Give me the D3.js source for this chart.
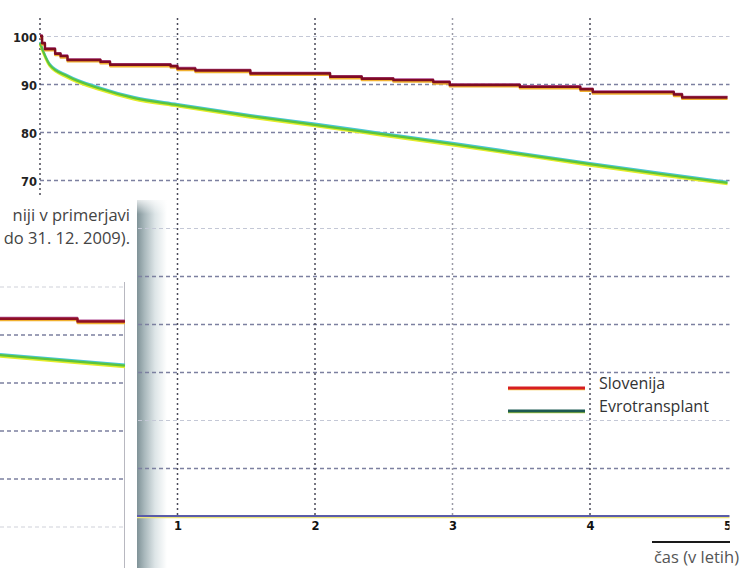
<!DOCTYPE html>
<html>
<head>
<meta charset="utf-8">
<script src="https://cdn.jsdelivr.net/npm/d3@7"></script>
<style>
  html, body { margin: 0; padding: 0; background: #ffffff; }
  svg { display: block; }
</style>
</head>
<body>
<svg id="chart" width="744" height="568"></svg>
<script>
// Preživetje (%) po letih: Slovenija in Evrotransplant
const seriesNames = ["Slovenija", "Evrotransplant"];

// Slovenija – stopničasta krivulja (leto, %)
const sloYears  = [0, 0.015, 0.036, 0.11, 0.15, 0.2, 0.44, 0.51, 0.95, 1.0, 1.13, 1.53, 2.11, 2.34, 2.57, 2.86, 2.98, 3.49, 3.93, 4.02, 4.61, 4.67, 5.0];
const sloValues = [100, 98.5, 97.3, 96.3, 95.8, 95.0, 94.6, 94.0, 93.7, 93.2, 92.8, 92.2, 91.5, 91.1, 90.8, 90.4, 89.8, 89.4, 88.9, 88.3, 87.8, 87.2, 87.2];

// Evrotransplant – gladka krivulja (leto, %)
const etYears  = [0, 0.07, 0.2, 0.44, 0.68, 1.0, 1.53, 2.0, 2.5, 3.0, 3.5, 4.0, 4.5, 5.0];
const etValues = [98.5, 94.0, 91.6, 89.0, 87.1, 85.6, 83.3, 81.5, 79.5, 77.5, 75.4, 73.3, 71.3, 69.4];

const xTicks = [1, 2, 3, 4, 5];
const yTicks = [0, 10, 20, 30, 40, 50, 60, 70, 80, 90, 100];
const yLabels = [70, 80, 90, 100];

// Izsek sosednjega grafa (spodaj levo)
const insetYears = [4.0, 4.0, 4.62, 5.0];
const insetSlo   = [93.4, 93.4, 92.8, 92.8];
const insetEtYears = [4.0, 5.0];
const insetEt      = [85.8, 83.6];
const captionLines = ["niji v primerjavi", "do 31. 12. 2009)."];

const svg = d3.select("#chart");
const defs = svg.append("defs");

defs.append("clipPath").attr("id", "plotClip")
  .append("rect").attr("x", 0).attr("y", 0).attr("width", 729.5).attr("height", 568);

const shade = defs.append("linearGradient").attr("id", "shade")
  .attr("x1", "0").attr("x2", "1").attr("y1", "0").attr("y2", "0");
shade.append("stop").attr("offset", "0%").attr("stop-color", "#7f9297");
shade.append("stop").attr("offset", "25%").attr("stop-color", "#a9b8bc");
shade.append("stop").attr("offset", "60%").attr("stop-color", "#dde5e7");
shade.append("stop").attr("offset", "100%").attr("stop-color", "#ffffff");

const shadeTop = defs.append("linearGradient").attr("id", "shadeTop")
  .attr("x1", "0").attr("x2", "0").attr("y1", "0").attr("y2", "1");
shadeTop.append("stop").attr("offset", "0%").attr("stop-color", "#ffffff").attr("stop-opacity", 1);
shadeTop.append("stop").attr("offset", "100%").attr("stop-color", "#ffffff").attr("stop-opacity", 0);

// Senca ob robu izseka
svg.append("rect").attr("x", 137).attr("y", 200).attr("width", 30).attr("height", 368).attr("fill", "url(#shade)");
svg.append("rect").attr("x", 137).attr("y", 196).attr("width", 32).attr("height", 18).attr("fill", "url(#shadeTop)");

const x = d3.scaleLinear().domain([0, 5]).range([40, 727.5]);
const y = d3.scaleLinear().domain([0, 100]).range([516, 36]);

const plot = svg.append("g").attr("clip-path", "url(#plotClip)");

// Vodoravne mrežne črte
const faintRows = new Set([100, 60, 20]);
plot.append("g").selectAll("line")
  .data(yTicks.filter(v => v > 0))
  .join("line")
  .attr("x1", x(0)).attr("x2", 731)
  .attr("y1", d => y(d) + 0.5).attr("y2", d => y(d) + 0.5)
  .attr("stroke", d => faintRows.has(d) ? "#c4c8d6" : "#7c80a0")
  .attr("stroke-width", d => faintRows.has(d) ? 1.2 : 1.6)
  .attr("stroke-dasharray", "4,3");

// Navpične mrežne črte
plot.append("g").selectAll("line")
  .data(xTicks.filter(v => v < 5))
  .join("line")
  .attr("x1", d => x(d)).attr("x2", d => x(d))
  .attr("y1", 18).attr("y2", y(0))
  .attr("stroke", d => d === 3 ? "#9a9aa6" : "#4a4a58")
  .attr("stroke-width", 1.5)
  .attr("stroke-dasharray", "2,3");

// Navpična os
plot.append("line")
  .attr("x1", x(0)).attr("x2", x(0)).attr("y1", 18).attr("y2", y(0))
  .attr("stroke", "#4a4a55").attr("stroke-width", 1.5).attr("stroke-dasharray", "2,3");

// Oznake na navpični osi
const yAxis = d3.axisLeft(y).tickValues(yLabels).tickSize(0).tickPadding(2).tickFormat(d3.format("d"));
const yg = plot.append("g").attr("transform", `translate(${x(0) - 1},2)`).call(yAxis);
yg.select(".domain").remove();
yg.selectAll("text")
  .attr("font-family", "DejaVu Sans, sans-serif").attr("font-size", 11.5)
  .attr("font-weight", "bold").attr("fill", "#222");

// Vodoravna os
plot.append("line")
  .attr("x1", 100).attr("x2", 731).attr("y1", y(0) + 1.5).attr("y2", y(0) + 1.5)
  .attr("stroke", "#ece47a").attr("stroke-width", 1.5);
plot.append("line")
  .attr("x1", 100).attr("x2", 731).attr("y1", y(0)).attr("y2", y(0))
  .attr("stroke", "#5a5ca8").attr("stroke-width", 2);

const xAxis = d3.axisBottom(x).tickValues(xTicks).tickSize(0).tickPadding(6).tickFormat(d3.format("d"));
const xg = plot.append("g").attr("transform", `translate(0,${y(0)})`).call(xAxis);
xg.select(".domain").remove();
xg.selectAll("text")
  .attr("font-family", "DejaVu Sans, sans-serif").attr("font-size", 11.5)
  .attr("font-weight", "bold").attr("fill", "#111");

// Krivulje
const sloData = sloYears.map((t, i) => [t, sloValues[i]]);
const etData = etYears.map((t, i) => [t, etValues[i]]);

const stepLine = d3.line().x(d => x(d[0])).y(d => y(d[1])).curve(d3.curveStepAfter);
const smoothLine = d3.line().x(d => x(d[0])).y(d => y(d[1])).curve(d3.curveMonotoneX);

function layered(g, gen, data, layers) {
  layers.forEach(l => {
    g.append("path").datum(data)
      .attr("d", gen)
      .attr("transform", `translate(0,${l.dy})`)
      .attr("fill", "none")
      .attr("stroke", l.color)
      .attr("stroke-width", l.w)
      .attr("stroke-linejoin", "round");
  });
}

layered(plot.append("g"), smoothLine, etData, [
  { dy: 1.4, color: "#e4ec2a", w: 2.2 },
  { dy: -1.2, color: "#49c6d4", w: 2.0 },
  { dy: 0, color: "#5cc43c", w: 2.2 }
]);
layered(plot.append("g"), stepLine, sloData, [
  { dy: 1.5, color: "#f0b030", w: 2.2 },
  { dy: -1.0, color: "#b04890", w: 1.6 },
  { dy: 0, color: "#7e0c22", w: 2.4 }
]);

// Legenda
const legendColors = [
  { main: "#d61e22", under: "#f2c23a" },
  { main: "#1d5a52", under: "#b8d838" }
];
const lg = svg.append("g");
seriesNames.forEach((name, i) => {
  const yy = 388 + i * 23;
  lg.append("line").attr("x1", 508).attr("x2", 585).attr("y1", yy + 1.5).attr("y2", yy + 1.5)
    .attr("stroke", legendColors[i].under).attr("stroke-width", 1.5);
  lg.append("line").attr("x1", 508).attr("x2", 585).attr("y1", yy).attr("y2", yy)
    .attr("stroke", legendColors[i].main).attr("stroke-width", 3);
  lg.append("text").attr("x", 599).attr("y", yy + 1)
    .attr("font-family", "Open Sans, sans-serif").attr("font-size", 16)
    .attr("fill", "#333").text(name);
});

// Naslov vodoravne osi
svg.append("line").attr("x1", 652).attr("x2", 730).attr("y1", 542).attr("y2", 542)
  .attr("stroke", "#1a1a1a").attr("stroke-width", 2);
svg.append("text").attr("x", 739).attr("y", 563).attr("text-anchor", "end")
  .attr("font-family", "Open Sans, sans-serif").attr("font-size", 16.5)
  .attr("fill", "#555").text("čas (v letih)");

// Izsek sosednjega grafa
const inset = svg.append("g");
inset.append("rect").attr("x", 0).attr("y", 195).attr("width", 137).attr("height", 373).attr("fill", "#ffffff");

captionLines.forEach((t, i) => {
  inset.append("text").attr("x", 130).attr("y", 221 + i * 23).attr("text-anchor", "end")
    .attr("font-family", "Open Sans, sans-serif").attr("font-size", 16.5)
    .attr("fill", "#444").text(t);
});

const ix = d3.scaleLinear().domain([4.0, 5.0]).range([0, 125]);
const iy = d3.scaleLinear().domain([0, 100]).range([767, 287]);

inset.append("g").selectAll("line")
  .data([100, 90, 80, 70, 60, 50])
  .join("line")
  .attr("x1", 0).attr("x2", 125)
  .attr("y1", d => iy(d)).attr("y2", d => iy(d))
  .attr("stroke", d => (d === 100 || d === 50) ? "#cfd2da" : "#7c80a0")
  .attr("stroke-width", d => (d === 100 || d === 50) ? 1.2 : 1.6)
  .attr("stroke-dasharray", "4,3");

inset.append("line").attr("x1", 124.5).attr("x2", 124.5).attr("y1", 282).attr("y2", 568)
  .attr("stroke", "#b8b8c0").attr("stroke-width", 1);

const iSloData = insetYears.map((t, i) => [t, insetSlo[i]]);
const iEtData = insetEtYears.map((t, i) => [t, insetEt[i]]);
const iStep = d3.line().x(d => ix(d[0])).y(d => iy(d[1])).curve(d3.curveStepAfter);
const iLin = d3.line().x(d => ix(d[0])).y(d => iy(d[1]));

layered(inset.append("g"), iLin, iEtData, [
  { dy: 1.4, color: "#e4ec2a", w: 2.2 },
  { dy: -1.2, color: "#49c6d4", w: 2.0 },
  { dy: 0, color: "#5cc43c", w: 2.2 }
]);
layered(inset.append("g"), iStep, iSloData, [
  { dy: 1.5, color: "#f0b030", w: 2.2 },
  { dy: -1.2, color: "#b04890", w: 1.6 },
  { dy: 0, color: "#8e1022", w: 2.4 }
]);
</script>
</body>
</html>
